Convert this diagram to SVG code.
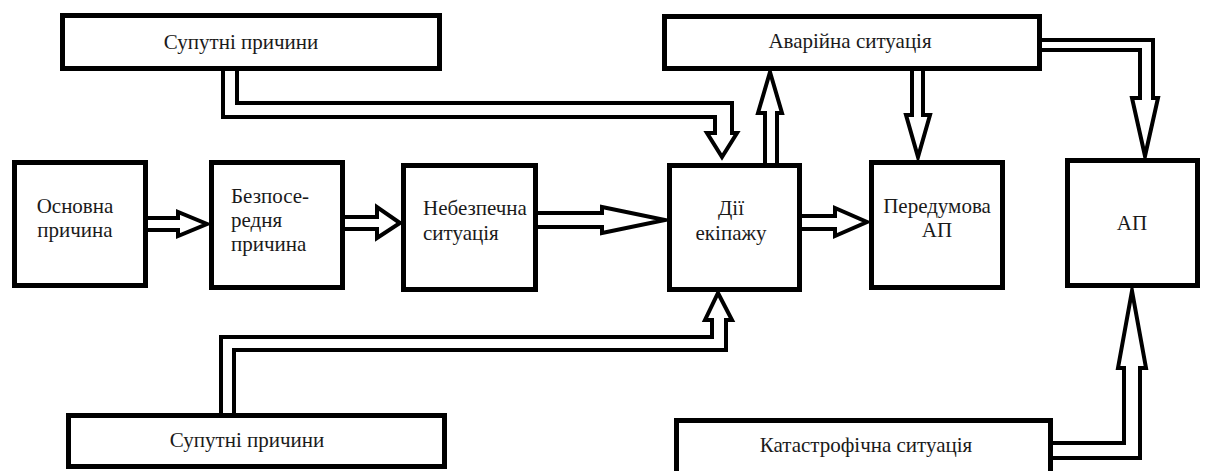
<svg xmlns="http://www.w3.org/2000/svg" width="1206" height="471" viewBox="0 0 1206 471">
  <style>
    .box { fill: #ffffff; stroke: #000000; stroke-width: 5; }
    .arr { fill: #ffffff; stroke: #000000; stroke-width: 4; stroke-linejoin: miter; stroke-miterlimit: 10; }
    text { font-family: 'Liberation Serif', 'DejaVu Serif', serif; font-size: 21px; fill: #1a1a1a; }
    .c { text-anchor: middle; }
  </style>
  <rect x="0" y="0" width="1206" height="471" fill="#ffffff"/>

  <g id="connectors">
    <path class="arr" d="M223,71 V117 H715 V133 H707 L722,157 L737,133 H732 V103 H237 V71"/>
    <path class="arr" d="M221,413 V337 H712 V320 H705 L718,293 L732,320 H726 V350 H234 V413"/>
    <path class="arr" d="M148,218 H178 V212 L207,224 L178,236 V230 H148"/>
    <path class="arr" d="M345,217 H377 V207 L400,223 L377,238 V229 H345"/>
    <path class="arr" d="M538,213 H602 V207 L665,220 L602,233 V227 H538"/>
    <path class="arr" d="M802,216 H835 V208 L867,222 L835,236 V229 H802"/>
    <path class="arr" d="M765,163 V113 H758 L770,72 L782,113 H777 V163"/>
    <path class="arr" d="M912,71 V115 H906 L918,157 L930,115 H923 V71"/>
    <path class="arr" d="M1042,40 H1153 V98 H1158 L1145,156 L1132,98 H1140 V50 H1042"/>
    <path class="arr" d="M1053,443 H1124 V368 H1118 L1132,291 L1146,368 H1140 V458 H1053"/>
  </g>

  <g id="n-supputni-top" font-family="Liberation Serif, serif">
    <rect class="box" x="62.5" y="15.5" width="377" height="53"/>
    <text class="c" x="241" y="49">Супутні причини</text>
  </g>
  <g id="n-avariyna">
    <rect class="box" x="664.5" y="16.5" width="375" height="52"/>
    <text class="c" x="850" y="48">Аварійна ситуація</text>
  </g>
  <g id="n-osnovna">
    <rect class="box" x="14.5" y="162.5" width="131" height="123"/>
    <text class="c" x="75" y="213">Основна</text>
    <text class="c" x="75" y="237">причина</text>
  </g>
  <g id="n-bezposeredna">
    <rect class="box" x="211.5" y="162.5" width="131" height="125"/>
    <text x="231" y="203">Безпосе-</text>
    <text x="231" y="227">редня</text>
    <text x="231" y="251">причина</text>
  </g>
  <g id="n-nebezpechna">
    <rect class="box" x="403.5" y="165.5" width="132" height="124"/>
    <text x="423" y="215">Небезпечна</text>
    <text x="423" y="240">ситуація</text>
  </g>
  <g id="n-dii">
    <rect class="box" x="669.5" y="165.5" width="130" height="124"/>
    <text class="c" x="731" y="215">Дії</text>
    <text class="c" x="731" y="240">екіпажу</text>
  </g>
  <g id="n-peredumova">
    <rect class="box" x="871.5" y="162.5" width="131" height="125"/>
    <text class="c" x="937" y="213">Передумова</text>
    <text class="c" x="937" y="237">АП</text>
  </g>
  <g id="n-ap">
    <rect class="box" x="1067.5" y="160.5" width="130" height="125"/>
    <text class="c" x="1132" y="230">АП</text>
  </g>
  <g id="n-supputni-bottom">
    <rect class="box" x="68.5" y="415.5" width="376" height="51"/>
    <text class="c" x="247" y="447">Супутні причини</text>
  </g>
  <g id="n-katastrofichna">
    <rect class="box" x="676.5" y="420.5" width="374" height="60"/>
    <text class="c" x="866" y="452">Катастрофічна ситуація</text>
  </g>
</svg>
